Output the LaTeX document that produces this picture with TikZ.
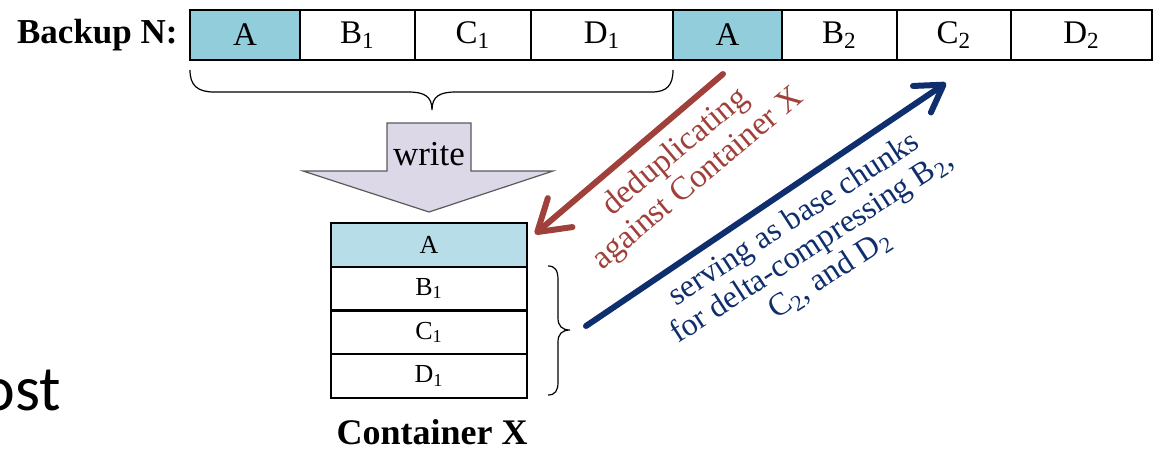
\documentclass[tikz,border=0pt]{standalone}
\usepackage{fontspec}
\setmainfont{Liberation Serif}
\newfontfamily\calibrifont{Carlito}
\usetikzlibrary{arrows.meta}
\definecolor{cellblue}{HTML}{92CDDC}
\definecolor{celllight}{HTML}{B7DEE8}
\definecolor{writefill}{HTML}{DDD8E8}
\definecolor{writeedge}{HTML}{5A5A5A}
\definecolor{dedupred}{HTML}{A0403A}
\definecolor{basenavy}{HTML}{0F2E6E}
\begin{document}
\begin{tikzpicture}[x=0.5pt,y=-0.5pt,
  chunk/.style={draw=black, line width=1.2pt, minimum height=25pt, inner sep=0pt,
    font=\fontsize{16.5}{18}\selectfont},
  dupchunk/.style={chunk, fill=cellblue},
  slot/.style={draw=black, line width=1pt, minimum width=98pt, minimum height=21.875pt,
    inner sep=0pt, font=\fontsize{13}{14}\selectfont},
  dupslot/.style={slot, fill=celllight},
  bracepath/.style={draw=black, line width=0.6pt},
  dedup/.style={draw=dedupred, line width=3pt, line cap=round, line join=round,
    -{Straight Barb[length=15pt,width=19pt,round]}},
  basearrow/.style={draw=basenavy, line width=3pt, line cap=round, line join=round,
    -{Straight Barb[length=13pt,width=16pt,round]}},
  boldlabel/.style={font=\bfseries\fontsize{17.5}{19}\selectfont, inner sep=0pt}]
\useasboundingbox (0,0) rectangle (1155,449);

% fragment of slide text at left edge
\node[anchor=base west, inner sep=0pt, font=\calibrifont\fontsize{32}{36}\selectfont] (ost) at (-19,410) {ost};

% Backup N row
\node[boldlabel, anchor=east] (backup) at (178,35) {Backup N:};
\node[dupchunk, minimum width=55pt]   (a1) at (245,35)    {A};
\node[chunk,    minimum width=57.5pt] (b1) at (357.5,35)  {B\textsubscript{1}};
\node[chunk,    minimum width=58pt]   (c1) at (473,35)    {C\textsubscript{1}};
\node[chunk,    minimum width=71pt]   (d1) at (602,35)    {D\textsubscript{1}};
\node[dupchunk, minimum width=54.5pt] (a2) at (727.5,35)  {A};
\node[chunk,    minimum width=57.5pt] (b2) at (839.5,35)  {B\textsubscript{2}};
\node[chunk,    minimum width=57pt]   (c2) at (954,35)    {C\textsubscript{2}};
\node[chunk,    minimum width=70.5pt] (d2) at (1081.5,35) {D\textsubscript{2}};

% brace under first segment
\draw[bracepath] (190,70) .. controls (190,85) and (197,92) .. (214,92) -- (408,92)
  .. controls (424,92) and (432,96) .. (432,110)
  .. controls (432,96) and (440,92) .. (456,92) -- (652,92)
  .. controls (667,92) and (673,85) .. (673,70);

% write block arrow
\draw[fill=writefill, draw=writeedge, line width=0.6pt]
  (387,123) -- (471,123) -- (471,171) -- (553,171) -- (429,212) -- (303,171) -- (387,171) -- cycle;
\node[inner sep=0pt, font=\fontsize{17.5}{19}\selectfont, anchor=base] (write) at (429,165) {write};

% Container X
\node[dupslot] (xa) at (429,244.9) {A};
\node[slot] (xb) at (429,288.6) {B\textsubscript{1}};
\node[slot] (xc) at (429,332.4) {C\textsubscript{1}};
\node[slot] (xd) at (429,376.1) {D\textsubscript{1}};
\node[boldlabel, font=\bfseries\fontsize{18}{20}\selectfont, anchor=base] (contx) at (432,444) {Container X};

% brace beside container
\draw[bracepath] (548,266) .. controls (555,266) and (558,270) .. (558,280) -- (558,318)
  .. controls (558,326) and (562,330) .. (570,330)
  .. controls (562,330) and (558,334) .. (558,342) -- (558,382)
  .. controls (558,391) and (555,395) .. (548,395);

% arrows
\coordinate (redS) at (723,74);
\coordinate (redE) at (535,234);
\draw[dedup] (redS) -- (redE);
\coordinate (blueS) at (586,326);
\coordinate (blueE) at (946,83);
\draw[basearrow] (blueS) -- (blueE);

% arrow labels
\node[rotate=40, text=dedupred, align=center, inner sep=0pt,
  font=\fontsize{16.5}{17.5}\selectfont] (deduptext) at (687,166)
  {deduplicating\\against Container X};
\node[rotate=33, text=basenavy, align=center, inner sep=0pt,
  font=\fontsize{16}{16.5}\selectfont] (basetext) at (812,247)
  {serving as base chunks\\for delta-compressing B\textsubscript{2},\\C\textsubscript{2}, and D\textsubscript{2}};
\end{tikzpicture}
\end{document}
